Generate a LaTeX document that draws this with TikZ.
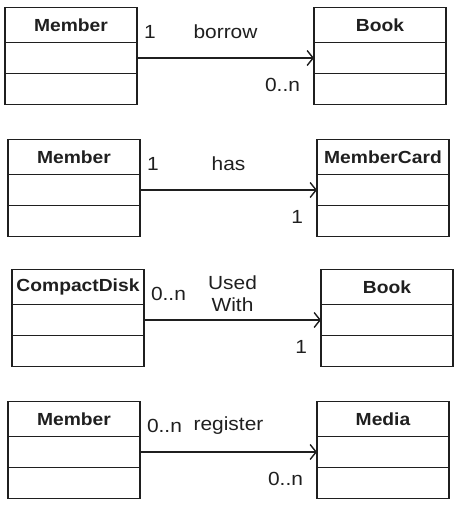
\documentclass[tikz,border=0pt]{standalone}
\usepackage{fontspec}
\setmainfont{Liberation Sans}[FakeStretch=1.1]
\usetikzlibrary{positioning,arrows.meta}

\definecolor{ink}{gray}{0.12}

\begin{document}
\begin{tikzpicture}[x=1pt, y=-1pt, node distance=177pt, line width=1.4pt, draw=ink, text=ink,
  cls/.style = {draw, outer sep=0pt, minimum width=132pt, minimum height=35pt, font=\fontsize{17.5}{20}\selectfont\bfseries},
  slot/.style = {draw, outer sep=0pt, minimum width=132pt, minimum height=31pt},
  assoc/.style = {-{Straight Barb[length=6pt,width=15pt]}},
  relname/.style = {font=\fontsize{19}{22}\selectfont, align=center, yshift=26pt},
  multl/.style = {font=\fontsize{19}{22}\selectfont, anchor=west, xshift=3pt, yshift=26pt},
  multr/.style = {font=\fontsize{19}{22}\selectfont, anchor=east, xshift=-10pt, yshift=-27pt}]
\useasboundingbox (0,0) rectangle (460,508);

% Member borrow Book
\node[cls] (mem1) at (71,25) {Member};
\node[slot, below=0pt of mem1] (mem1a) {};
\node[slot, below=0pt of mem1a] (mem1b) {};
\node[cls, right=of mem1] (book1) {Book};
\node[slot, below=0pt of book1] (book1a) {};
\node[slot, below=0pt of book1a] (book1b) {};

% Member has MemberCard
\node[cls] (mem2) at (74,157) {Member};
\node[slot, below=0pt of mem2] (mem2a) {};
\node[slot, below=0pt of mem2a] (mem2b) {};
\node[cls, right=of mem2] (card) {MemberCard};
\node[slot, below=0pt of card] (carda) {};
\node[slot, below=0pt of carda] (cardb) {};

% CompactDisk used with Book
\node[cls] (cd) at (78,287) {CompactDisk};
\node[slot, below=0pt of cd] (cda) {};
\node[slot, below=0pt of cda] (cdb) {};
\node[cls, right=of cd] (book2) {Book};
\node[slot, below=0pt of book2] (book2a) {};
\node[slot, below=0pt of book2a] (book2b) {};

% Member register Media
\node[cls] (mem3) at (74,419) {Member};
\node[slot, below=0pt of mem3] (mem3a) {};
\node[slot, below=0pt of mem3a] (mem3b) {};
\node[cls, right=of mem3] (media) {Media};
\node[slot, below=0pt of media] (mediaa) {};
\node[slot, below=0pt of mediaa] (mediab) {};

\draw[assoc] (mem1a.east) -- node[relname] {borrow} node[at start, multl] {1} node[at end, multr] {0..n} (book1a.west);
\draw[assoc] (mem2a.east) -- node[relname] {has} node[at start, multl] {1} node[at end, multr] {1} (carda.west);
\draw[assoc] (cda.east) -- node[relname] {Used\\With} node[at start, multl] {0..n} node[at end, multr] {1} (book2a.west);
\draw[assoc] (mem3a.east) -- node[relname] {register} node[at start, multl] {0..n} node[at end, multr] {0..n} (mediaa.west);

\end{tikzpicture}
\end{document}
